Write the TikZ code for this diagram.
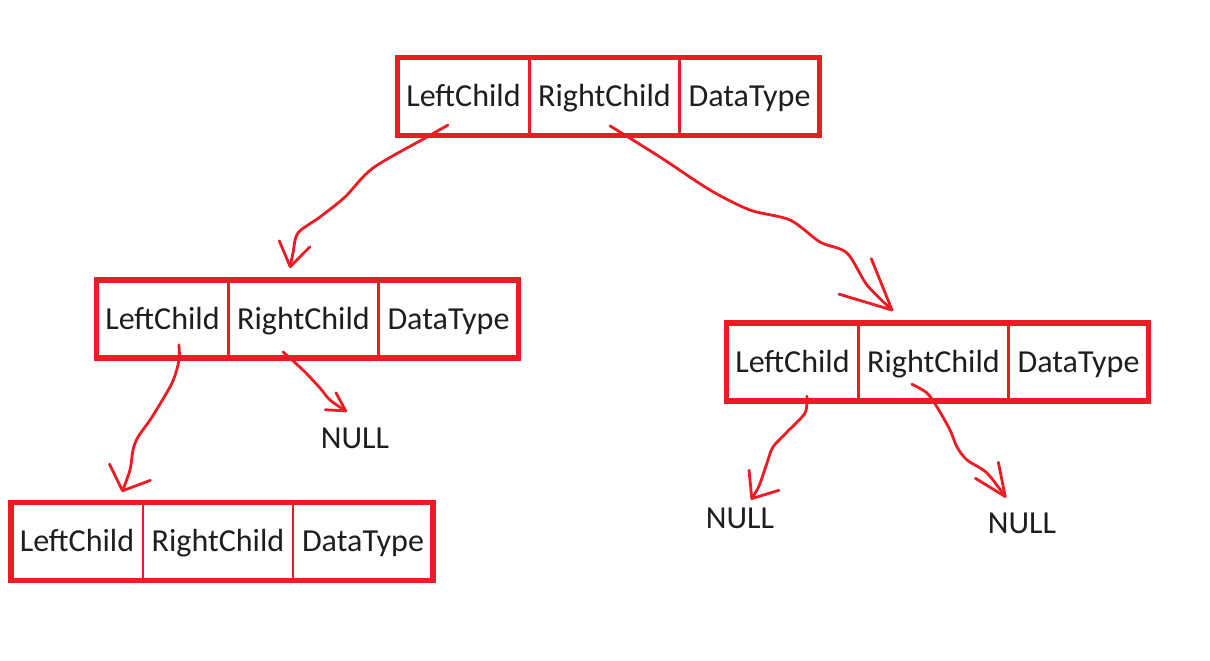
\documentclass[tikz,border=0pt]{standalone}
\usepackage{fontspec}
\setmainfont{Carlito}
\usepackage{tikz}
\usetikzlibrary{positioning,arrows.meta}
\definecolor{paintred}{RGB}{237,28,36}
\definecolor{inkgray}{RGB}{30,30,30}

\begin{document}
\begin{tikzpicture}[
node distance=0pt,
cell/.style={draw=paintred, line width=1.8pt, outer sep=0pt, inner sep=0pt, minimum height=1.95cm, text height=14.7pt, text depth=0pt, font=\fontsize{22.8}{27}\selectfont, text=inkgray},
leftcell/.style={cell, minimum width=3.3cm},
rightcell/.style={cell, minimum width=3.75cm},
datacell/.style={cell, minimum width=3.5cm},
record/.style={draw=paintred, line width=3.6pt},
nulltext/.style={inner sep=0pt, font=\fontsize{22.8}{27}\selectfont, text=inkgray},
link/.style={paintred, line width=2pt, line cap=round, line join=round},
head/.style 2 args={-{Straight Barb[length=#1, width=#2, round]}}
]
\useasboundingbox (0,0) rectangle (30.25,-16.525);

% root record
\node[leftcell, anchor=north west] (r1l) at (9.9375,-1.4375) {LeftChild};
\node[rightcell, right=of r1l] (r1r) {RightChild};
\node[datacell, right=of r1r] (r1d) {DataType};
\draw[record] (r1l.north west) rectangle (r1d.south east);

% left child
\node[leftcell, anchor=north west] (r2l) at (2.4125,-7.0) {LeftChild};
\node[rightcell, right=of r2l] (r2r) {RightChild};
\node[datacell, right=of r2r] (r2d) {DataType};
\draw[record] (r2l.north west) rectangle (r2d.south east);

% right child
\node[leftcell, anchor=north west] (r3l) at (18.1625,-8.075) {LeftChild};
\node[rightcell, right=of r3l] (r3r) {RightChild};
\node[datacell, right=of r3r] (r3d) {DataType};
\draw[record] (r3l.north west) rectangle (r3d.south east);

% grandchild
\node[leftcell, anchor=north west] (r4l) at (0.275,-12.5625) {LeftChild};
\node[rightcell, right=of r4l] (r4r) {RightChild};
\node[datacell, right=of r4r] (r4d) {DataType};
\draw[record] (r4l.north west) rectangle (r4d.south east);

\node[nulltext] (null1) at (8.875,-10.95) {NULL};
\node[nulltext] (null2) at (18.5,-12.95) {NULL};
\node[nulltext] (null3) at (25.55,-13.075) {NULL};

% pointers
\draw[link, head={5.8mm}{7.8mm}] plot[smooth] coordinates {([xshift=-3.9mm,yshift=2.6mm]r1l.south) (10.675,-3.425) (9.325,-4.2) (8.625,-4.925) (8.0,-5.425) (7.45,-5.825) (7.325,-6.325) ([xshift=-3.4mm,yshift=3mm]r2r.north)};
\draw[link, head={12.5mm}{12mm}] plot[smooth] coordinates {([xshift=1.4mm,yshift=2.4mm]r1r.south) (16.5,-3.925) (17.75,-4.75) (18.75,-5.25) (19.75,-5.5) (20.5,-6.05) (21.175,-6.325) (21.675,-7.125) ([xshift=-10.1mm,yshift=3mm]r3r.north)};
\draw[link, head={5mm}{11mm}] plot[smooth] coordinates {([xshift=4.1mm,yshift=3.3mm]r2l.south) (4.475,-9.0) (4.3,-9.575) (3.8,-10.425) (3.45,-10.925) (3.325,-11.25) (3.25,-11.75) ([xshift=11.25mm,yshift=2.6mm]r4l.north)};
\draw[link, head={4.5mm}{5mm}] plot[smooth] coordinates {([xshift=-5.1mm,yshift=1.5mm]r2r.south) (7.575,-9.25) (8.0,-9.7) (8.25,-10.0) ([xshift=-2mm,yshift=3.9mm]null1.north)};
\draw[link, head={5.5mm}{9mm}] plot[smooth] coordinates {([xshift=3.6mm,yshift=1.2mm]r3l.south) (20.125,-10.325) (19.675,-10.8) (19.325,-11.175) (19.175,-11.575) (18.975,-12.15) ([xshift=2.75mm,yshift=1.9mm]null2.north)};
\draw[link, head={8mm}{7mm}] plot[smooth] coordinates {([xshift=-5.4mm,yshift=4.2mm]r3r.south) (23.175,-9.825) (23.425,-10.175) (23.75,-10.75) (23.925,-11.175) (24.175,-11.5) (24.675,-11.825) ([xshift=-4mm,yshift=3.65mm]null3.north)};
\end{tikzpicture}
\end{document}
